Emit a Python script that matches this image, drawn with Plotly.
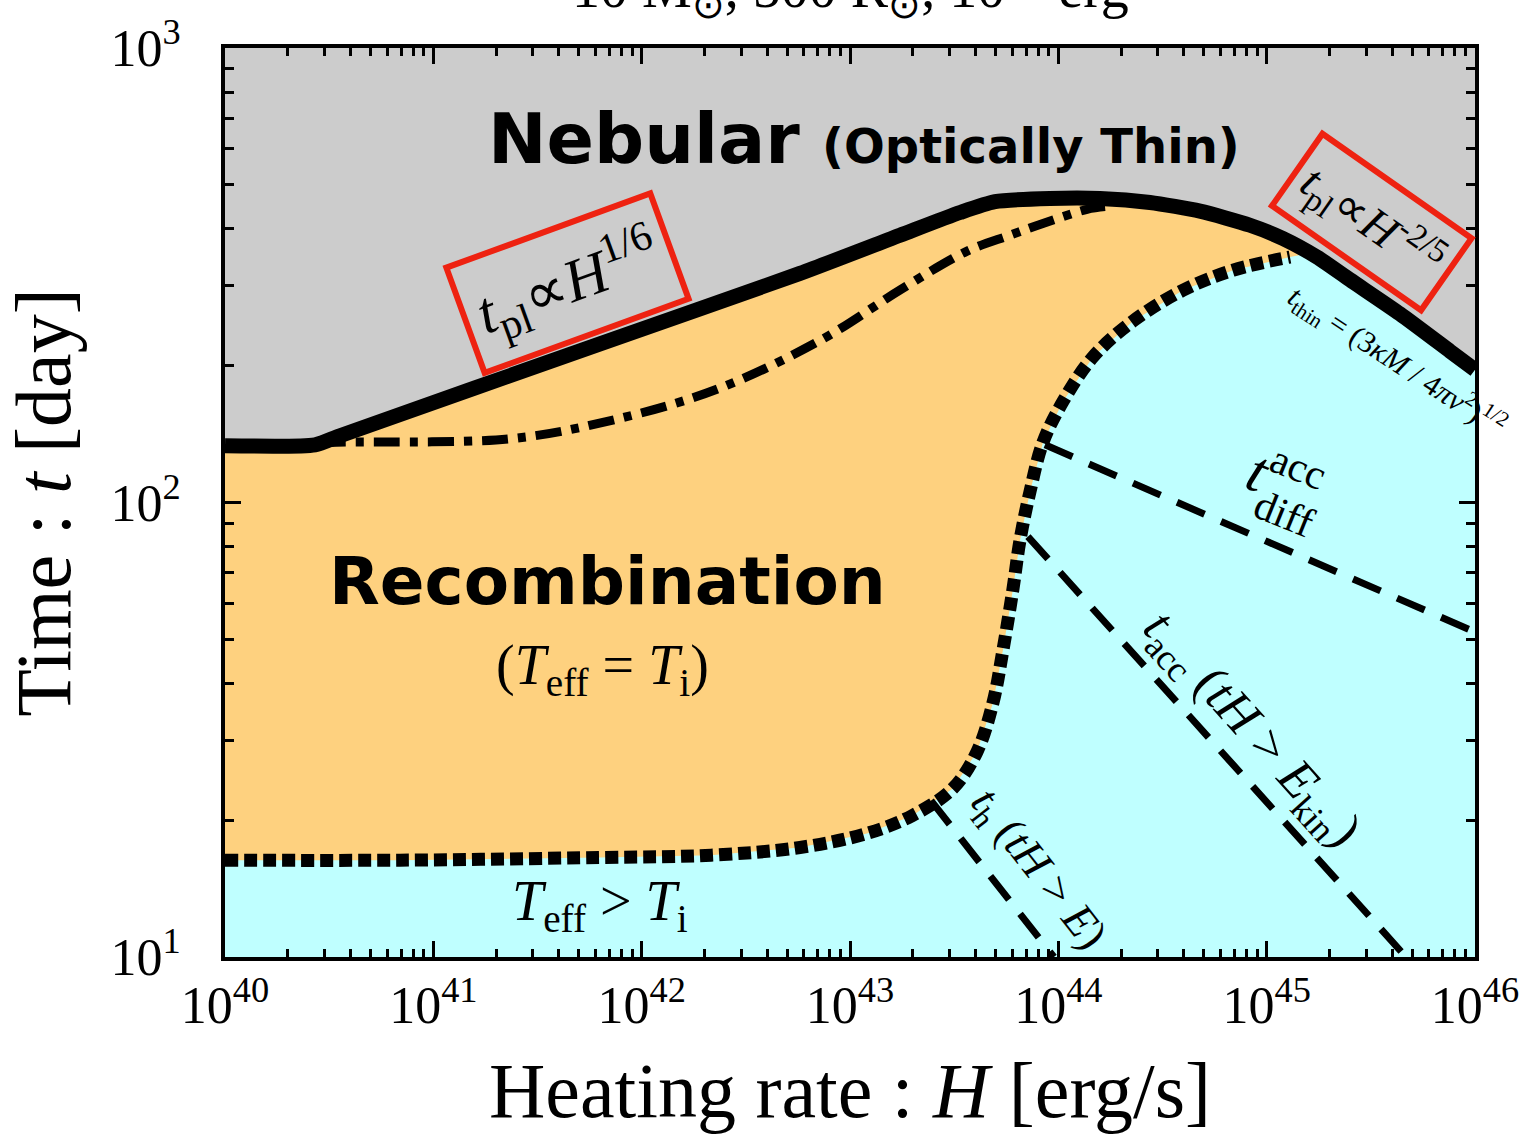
import numpy as np
import plotly.graph_objects as go

# ---------------- data (log10 values) ----------------
# t_pl : boundary between recombination and nebular phase (thick solid line)
tpl_logH = [40.0, 40.432, 40.552, 41.80, 42.76, 43.24, 43.528, 43.696, 43.96, 44.20,
            44.44, 44.68, 44.92, 45.078, 45.242, 45.40, 45.64, 45.88, 46.0]
tpl_logt = [2.125, 2.127, 2.147, 2.349, 2.504, 2.588, 2.638, 2.662, 2.669, 2.669,
            2.660, 2.641, 2.610, 2.581, 2.540, 2.490, 2.415, 2.333, 2.292]

# recombination onset boundary (thick dotted line)
rec_logH = [40.0, 40.84, 41.80, 42.333, 42.76, 43.082, 43.298, 43.494, 43.61, 43.686,
            43.734, 43.782, 43.816, 43.864, 43.926, 44.022, 44.166, 44.358, 44.598,
            44.838, 45.112, 45.20]
rec_logt = [1.213, 1.213, 1.219, 1.224, 1.241, 1.272, 1.311, 1.371, 1.452, 1.559,
            1.675, 1.809, 1.917, 2.024, 2.132, 2.222, 2.320, 2.399, 2.467,
            2.511, 2.540, 2.548]

# dash-dot curve
dd_logH = [40.456, 40.504, 41.363, 41.867, 42.366, 42.870, 43.245, 43.562, 43.768,
           43.926, 44.138, 44.224]
dd_logt = [2.129, 2.132, 2.140, 2.182, 2.250, 2.360, 2.469, 2.553, 2.588,
           2.614, 2.645, 2.651]

# dashed lines
tdiff_logH = [43.936, 46.0]
tdiff_logt = [2.127, 1.715]
tacc_logH = [43.854, 45.669]
tacc_logt = [1.925, 1.0]
th_logH = [43.389, 43.979]
th_logt = [1.344, 1.0]

# tick labels
x_tick_exp = [40, 41, 42, 43, 44, 45, 46]
y_tick_exp = [1, 2, 3]

GRAY = "#CCCCCC"
ORANGE = "#FED17F"
CYAN = "#BFFFFF"
RED = "#EE2211"
SERIF = "Liberation Serif"
SANS = "DejaVu Sans"

p = lambda a: [10 ** v for v in a]

fig = go.Figure()

# orange region: everything below t_pl
orng_x = p(tpl_logH) + [1e46, 1e40]
orng_y = p(tpl_logt) + [10, 10]
fig.add_trace(go.Scatter(x=orng_x, y=orng_y, fill="toself", fillcolor=ORANGE,
                         line=dict(width=0), mode="lines", hoverinfo="skip", showlegend=False))

# cyan region: below recombination boundary and right part under t_pl
idx = [i for i, v in enumerate(tpl_logH) if v > rec_logH[-1]]
cy_x = p(rec_logH) + [10 ** tpl_logH[i] for i in idx] + [1e46, 1e40]
cy_y = p(rec_logt) + [10 ** tpl_logt[i] for i in idx] + [10, 10]
fig.add_trace(go.Scatter(x=cy_x, y=cy_y, fill="toself", fillcolor=CYAN,
                         line=dict(width=0), mode="lines", hoverinfo="skip", showlegend=False))

# dashed lines
for hx, ty in [(tdiff_logH, tdiff_logt), (tacc_logH, tacc_logt), (th_logH, th_logt)]:
    fig.add_trace(go.Scatter(x=p(hx), y=p(ty), mode="lines",
                             line=dict(color="black", width=7, dash="30px,18px"),
                             hoverinfo="skip", showlegend=False))

# dash-dot
fig.add_trace(go.Scatter(x=p(dd_logH), y=p(dd_logt), mode="lines",
                         line=dict(color="black", width=9, dash="26px,10px,8px,10px", shape="spline"),
                         hoverinfo="skip", showlegend=False))

# dotted boundary
fig.add_trace(go.Scatter(x=p(rec_logH[:-1]), y=p(rec_logt[:-1]), mode="lines",
                         line=dict(color="black", width=13, dash="13px,6px", shape="spline"),
                         hoverinfo="skip", showlegend=False))

# thick solid t_pl
fig.add_trace(go.Scatter(x=p(tpl_logH), y=p(tpl_logt), mode="lines",
                         line=dict(color="black", width=15, shape="spline", smoothing=0.6),
                         hoverinfo="skip", showlegend=False))

ann = []
def A(text, x, y, size, family=SERIF, angle=0, **kw):
    d = dict(text=text, x=x, y=y, xref="x", yref="y", showarrow=False,
             font=dict(family=family, size=size, color="black"), textangle=angle)
    d.update(kw)
    ann.append(d)

A("<b>Nebular</b> <b><span style='font-size:48px'>(Optically Thin)</span></b>", 43.065, 2.80, 70, family=SANS)
A("<b>Recombination</b>", 41.838, 1.827, 66, family=SANS)
A("(<i>T</i><sub>eff</sub> = <i>T</i><sub>i</sub>)", 41.81, 1.634, 56)
A("<i>T</i><sub>eff</sub> > <i>T</i><sub>i</sub>", 41.80, 1.114, 56)
A("<i>t</i><sub>pl</sub>∝<i>H</i><sup>1/6</sup>", 41.646, 2.4825, 60, angle=-20,
  bordercolor=RED, borderwidth=6, borderpad=11)
A("<i>t</i><sub>pl</sub>∝<i>H</i><sup>-2/5</sup>", 45.505, 2.618, 47, angle=35,
  bordercolor=RED, borderwidth=6, borderpad=8)
A("<i>t</i><sub>thin</sub> = (3<i>κM</i> / 4<i>πv</i><sup>2</sup>)<sup>1/2</sup>", 45.625, 2.31, 30, angle=33)
A("<i>t</i><sup>acc</sup>", 45.09, 2.055, 60, angle=22)
A("diff", 45.085, 1.975, 42, angle=22)
A("<i>t</i><sub>acc</sub> (<i>tH</i> > <i>E</i><sub>kin</sub>)", 44.92, 1.498, 52, angle=48)
A("<i>t</i><sub>h</sub> (<i>tH</i> > <i>E</i>)", 43.898, 1.191, 45, angle=52)

# title (partly outside the page, as in the reference)
ann.append(dict(text="10 M<sub>⊙</sub>, 500 R<sub>⊙</sub>, 10<sup>51</sup> erg",
                x=0.5, y=1.022, xref="paper", yref="paper", xanchor="center", yanchor="bottom",
                showarrow=False, font=dict(family=SERIF, size=56, color="black")))

x_minor = [k * 10.0 ** e for e in range(40, 46) for k in range(2, 10)]
y_minor = [k * 10.0 ** e for e in range(1, 3) for k in range(2, 10)]

axis_common = dict(type="log", showline=True, linewidth=4, linecolor="black", mirror="allticks",
                   ticks="inside", ticklen=16, tickwidth=3, tickcolor="black",
                   showgrid=False, zeroline=False,
                   tickfont=dict(family=SERIF, size=52, color="black"))

fig.update_layout(
    width=1537, height=1138,
    margin=dict(l=225, r=62, t=45, b=181),
    paper_bgcolor="white", plot_bgcolor=GRAY,
    showlegend=False,
    annotations=ann,
    xaxis=dict(range=[40, 46],
               tickvals=[10.0 ** e for e in x_tick_exp],
               ticktext=[f"10<sup>{e}</sup>" for e in x_tick_exp],
               minor=dict(tickvals=x_minor, ticks="inside", ticklen=8, tickwidth=2.5,
                          tickcolor="black", showgrid=False),
               title=dict(text="Heating rate : <i>H</i> [erg/s]",
                          font=dict(family=SERIF, size=78, color="black"), standoff=30),
               **axis_common),
    yaxis=dict(range=[1, 3],
               tickvals=[10.0 ** e for e in y_tick_exp],
               ticktext=[f"10<sup>{e}</sup>" for e in y_tick_exp],
               ticklabelstandoff=30,
               minor=dict(tickvals=y_minor, ticks="inside", ticklen=9, tickwidth=2.5,
                          tickcolor="black", showgrid=False),
               title=dict(text="Time : <i>t</i> [day]",
                          font=dict(family=SERIF, size=78, color="black"), standoff=15),
               **axis_common),
)

fig.write_html("out.html")
